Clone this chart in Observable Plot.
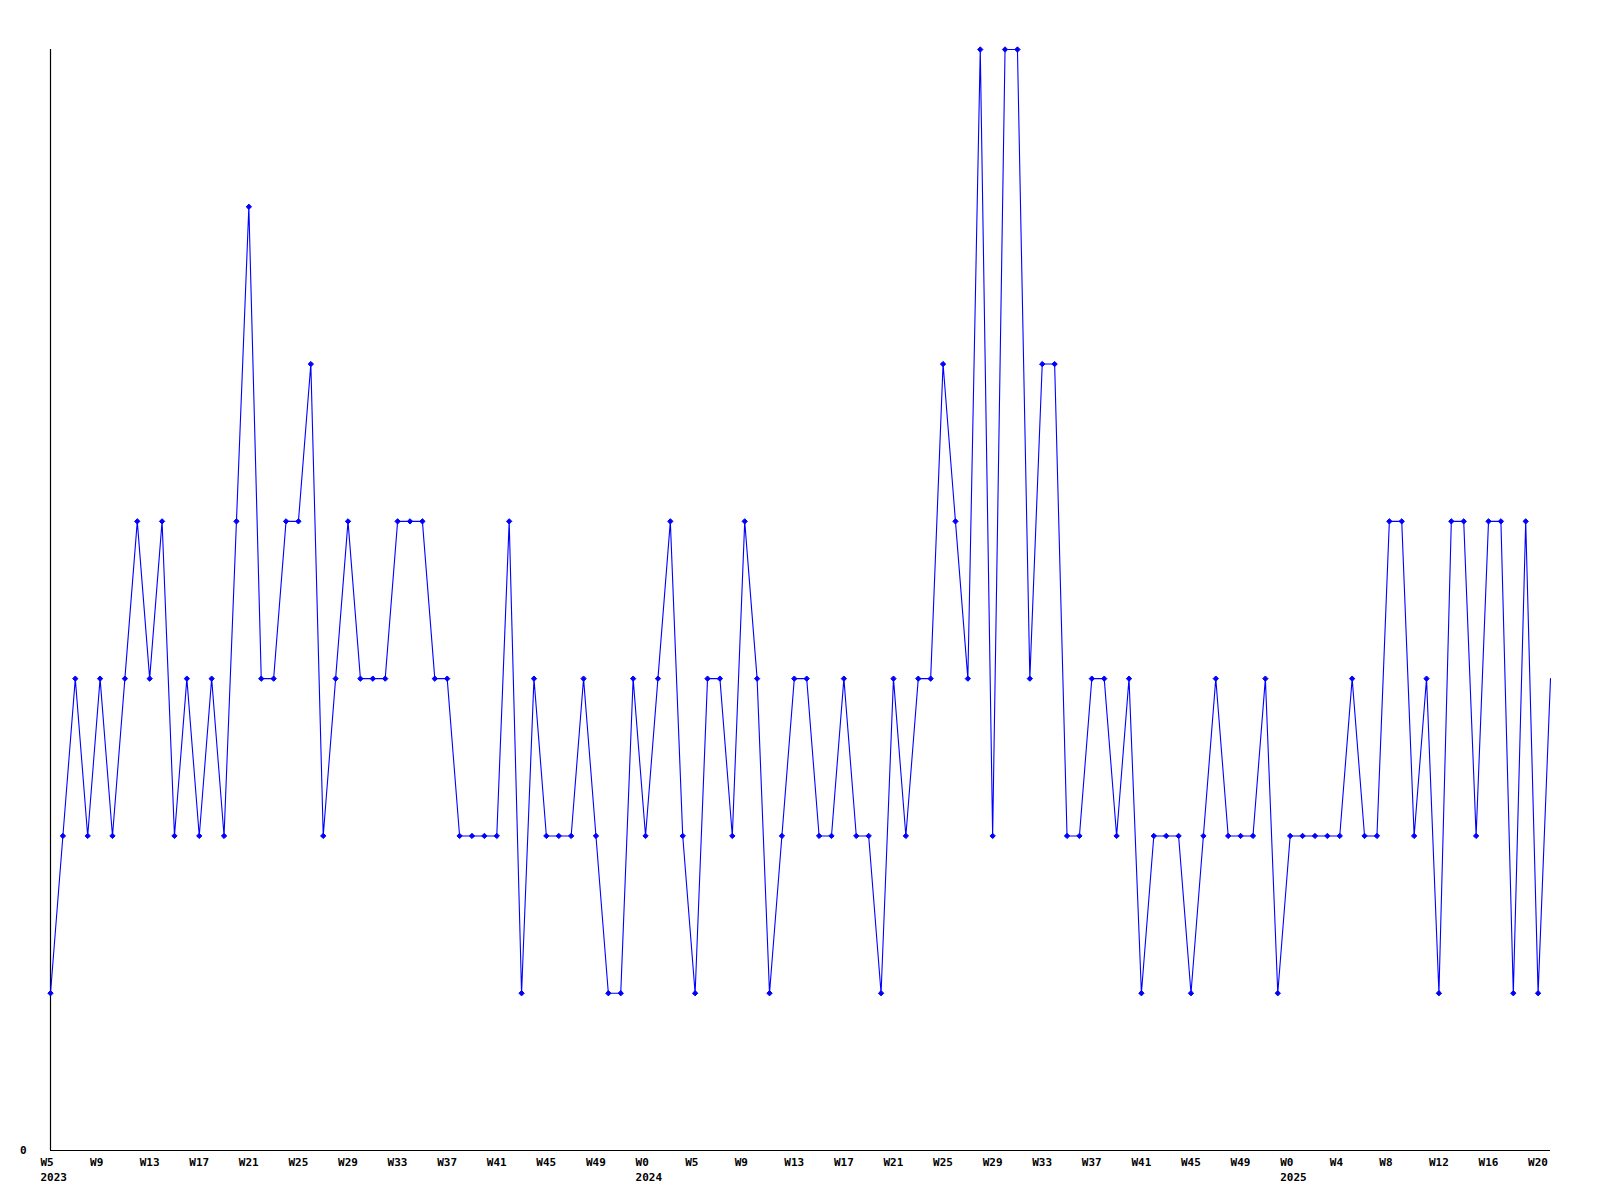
<!DOCTYPE html>
<html>
<head>
<meta charset="utf-8">
<script src="https://cdn.jsdelivr.net/npm/d3@7"></script>
<script src="https://cdn.jsdelivr.net/npm/@observablehq/plot@0.6"></script>
<style>
  html, body { margin: 0; padding: 0; background: #ffffff; }
</style>
</head>
<body>
<div id="chart"></div>
<script>
// Weekly counts, 2023 W5 … 2025 W21 (one value per week)
const values = [
  1,2,3,2,3,2,3,4,3,4,
  2,3,2,3,2,4,6,3,3,4,
  4,5,2,3,4,3,3,3,4,4,
  4,3,3,2,2,2,2,4,1,3,
  2,2,2,3,2,1,1,3,2,3,
  4,2,1,3,3,2,4,3,1,2,
  3,3,2,2,3,2,2,1,3,2,
  3,3,5,4,3,7,2,7,7,3,
  5,5,2,2,3,3,2,3,1,2,
  2,2,1,2,3,2,2,2,3,1,
  2,2,2,2,2,3,2,2,4,4,
  2,3,1,4,4,2,4,4,1,4,
  1,3
];

// x tick positions (week index) and labels
const tickPositions = [0,4,8,12,16,20,24,28,32,36,40,44,48,52,56,60,64,68,72,76,80,84,88,92,96,100,104,108,112,116,120];
const tickLabels = ["W5","W9","W13","W17","W21","W25","W29","W33","W37","W41","W45","W49",
                    "W0","W5","W9","W13","W17","W21","W25","W29","W33","W37","W41","W45","W49",
                    "W0","W4","W8","W12","W16","W20"];
const yearPositions = [0,48,100];
const yearLabels = ["2023","2024","2025"];
const yTicks = [0];

const data = values.map((v, i) => ({ i, v }));
const xTicks = tickPositions.map((p, j) => ({ p, label: tickLabels[j] }));
const years = yearPositions.map((p, j) => ({ p, label: yearLabels[j] }));

const chart = Plot.plot({
  width: 1600,
  height: 1200,
  marginLeft: 50,
  marginRight: 50,
  marginTop: 49,
  marginBottom: 50,
  x: { domain: [0, values.length - 1], axis: null },
  y: { domain: [0, 7], axis: null },
  style: {
    fontFamily: "'DejaVu Sans Mono', monospace",
    fontSize: "11px",
    fontWeight: "bold",
    background: "#ffffff",
    color: "#000000"
  },
  marks: [
    Plot.ruleX([0], { stroke: "#000000", strokeWidth: 1.2 }),
    Plot.ruleY([0], { stroke: "#000000", strokeWidth: 1.2 }),
    Plot.line(data, { x: "i", y: "v", stroke: "#0000ff", strokeWidth: 1.1 }),
    Plot.dot(data.slice(0, -1), { x: "i", y: "v", symbol: "diamond2", r: 2.4, fill: "#0000ff", stroke: "#0000ff", strokeWidth: 1 }),
    Plot.text(xTicks, { x: "p", text: "label", frameAnchor: "bottom", dy: 12, dx: -10, textAnchor: "start", lineAnchor: "middle", fill: "#000000" }),
    Plot.text(years, { x: "p", text: "label", frameAnchor: "bottom", dy: 27, dx: -10, textAnchor: "start", lineAnchor: "middle", fill: "#000000" }),
    Plot.text(yTicks, { y: d => d, text: d => String(d), frameAnchor: "left", dx: -24, textAnchor: "end", lineAnchor: "middle", fill: "#000000" })
  ]
});

document.getElementById("chart").appendChild(chart);
</script>
</body>
</html>
